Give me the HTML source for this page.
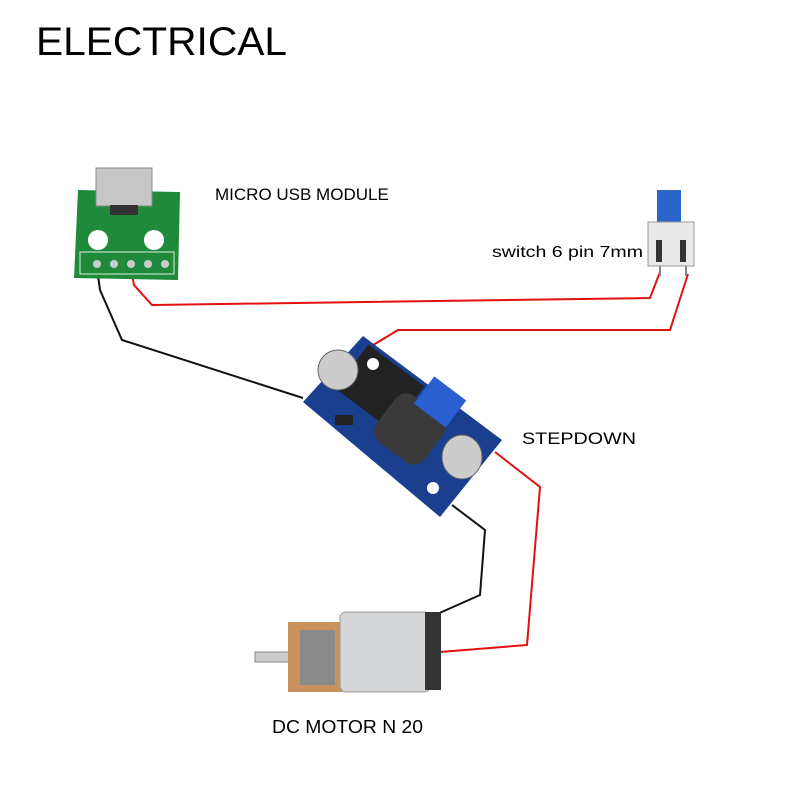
<!DOCTYPE html>
<html><head><style>
body{margin:0;background:#fff;}
svg{display:block}
text{font-family:"Liberation Sans",sans-serif;fill:#000}
</style></head><body>
<svg width="810" height="810" viewBox="0 0 810 810">
<rect width="810" height="810" fill="#fff"/>
<text x="36" y="55" font-size="40" textLength="251" lengthAdjust="spacingAndGlyphs">ELECTRICAL</text>
<text x="215" y="200" font-size="17">MICRO USB MODULE</text>
<text x="492" y="257" font-size="16" textLength="151" lengthAdjust="spacingAndGlyphs">switch 6 pin 7mm</text>
<text x="522" y="444" font-size="17" textLength="114" lengthAdjust="spacingAndGlyphs">STEPDOWN</text>
<text x="272" y="733" font-size="18" textLength="151" lengthAdjust="spacingAndGlyphs">DC MOTOR N 20</text>

<!-- wires -->
<g fill="none" stroke-width="2">
<polyline stroke="#111" points="97,268 100,290 122,340 303,398"/>
<polyline stroke="#e41010" points="131,268 134,285 152,305 650,298 660,272"/>
<polyline stroke="#e41010" points="688,274 670,330 398,330 365,350"/>
<polyline stroke="#e41010" points="495,452 540,487 527,645 440,652"/>
<polyline stroke="#111" points="452,505 485,530 480,595 435,615"/>
</g>

<!-- USB module -->
<polygon points="78,190 180,192 178,280 74,278" fill="#1f8a3a"/>
<rect x="96" y="168" width="56" height="38" fill="#c7c7c7" stroke="#888"/>
<rect x="110" y="205" width="28" height="10" fill="#333"/>
<circle cx="98" cy="240" r="10" fill="#fff"/>
<circle cx="154" cy="240" r="10" fill="#fff"/>
<rect x="80" y="252" width="94" height="22" fill="none" stroke="#e0f0e0"/>
<g fill="#ccc"><circle cx="97" cy="264" r="4"/><circle cx="114" cy="264" r="4"/><circle cx="131" cy="264" r="4"/><circle cx="148" cy="264" r="4"/><circle cx="165" cy="264" r="4"/></g>

<!-- switch -->
<rect x="657" y="190" width="24" height="34" fill="#2a66c9"/>
<rect x="648" y="222" width="46" height="44" fill="#e9e9e9" stroke="#999"/>
<rect x="656" y="240" width="6" height="22" fill="#333"/>
<rect x="680" y="240" width="6" height="22" fill="#333"/>
<line x1="660" y1="266" x2="660" y2="276" stroke="#888" stroke-width="2"/>
<line x1="686" y1="266" x2="686" y2="276" stroke="#888" stroke-width="2"/>

<!-- stepdown -->
<polygon points="303,402 363,336 502,440 440,517" fill="#1a3f8f"/>
<rect x="345" y="360" width="70" height="55" fill="#222" transform="rotate(37 380 387)"/>
<rect x="380" y="400" width="60" height="58" rx="14" fill="#3a3a3a" transform="rotate(37 410 429)"/>
<rect x="420" y="385" width="40" height="34" fill="#2b5fcf" transform="rotate(37 440 402)"/>
<ellipse cx="338" cy="370" rx="20" ry="20" fill="#ccc" stroke="#666"/>
<ellipse cx="462" cy="457" rx="20" ry="22" fill="#ccc" stroke="#666"/>
<circle cx="373" cy="364" r="6" fill="#fff"/>
<circle cx="433" cy="488" r="6" fill="#fff"/>
<rect x="335" y="415" width="18" height="10" fill="#222"/>

<!-- motor -->
<rect x="255" y="652" width="35" height="10" fill="#ccc" stroke="#888"/>
<rect x="288" y="622" width="55" height="70" fill="#c9915e"/>
<rect x="300" y="630" width="35" height="55" fill="#8a8a8a"/>
<rect x="340" y="612" width="90" height="80" rx="6" fill="#d4d6d8" stroke="#999"/>
<rect x="425" y="612" width="16" height="78" fill="#333"/>
</svg>
</body></html>
